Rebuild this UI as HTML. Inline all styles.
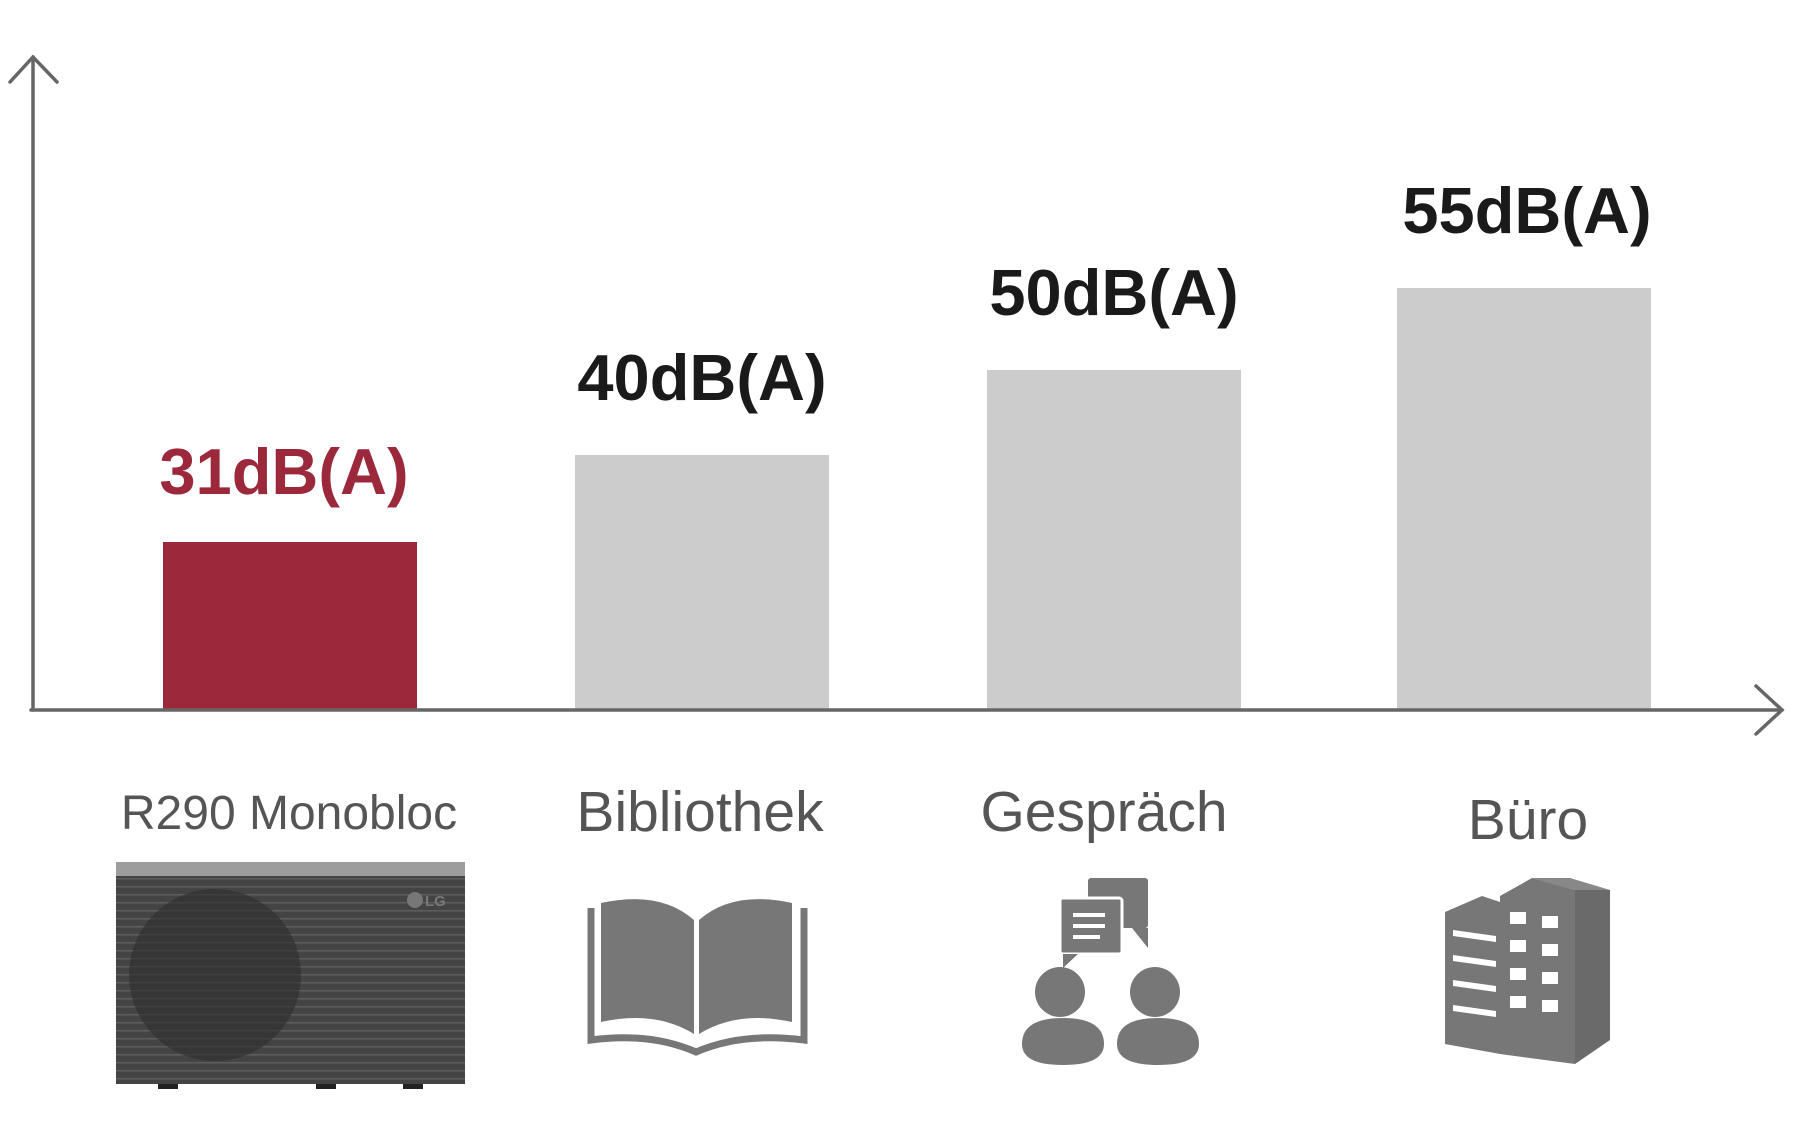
<!DOCTYPE html>
<html><head><meta charset="utf-8"><style>
html,body{margin:0;padding:0;background:#fff;}
svg{display:block;}
</style></head><body>
<svg width="1800" height="1140" viewBox="0 0 1800 1140" xmlns="http://www.w3.org/2000/svg">
<defs>
<pattern id="grille" width="10" height="8" patternUnits="userSpaceOnUse">
<rect width="10" height="8" fill="#444"/>
<rect y="6" width="10" height="1.5" fill="#5e5e5e"/>
</pattern>
</defs>
<rect x="163" y="542" width="254" height="167" fill="#9c283c"/>
<rect x="575" y="455" width="254" height="254" fill="#cccccc"/>
<rect x="987" y="370" width="254" height="339" fill="#cccccc"/>
<rect x="1397" y="288" width="254" height="421" fill="#cccccc"/>
<g stroke="#666" stroke-width="3.5" fill="none" stroke-linecap="round">
<line x1="33" y1="57" x2="33" y2="710"/>
<polyline points="10,82 33,57 57,82"/>
<line x1="31" y1="710" x2="1782" y2="710"/>
<polyline points="1756,686 1782,710 1756,734"/>
</g>
<g font-family="Liberation Sans, sans-serif" font-weight="bold" font-size="65" text-anchor="middle">
<text x="284" y="494" fill="#9c283c">31dB(A)</text>
<text x="702" y="400" fill="#1a1a1a">40dB(A)</text>
<text x="1114" y="315" fill="#1a1a1a">50dB(A)</text>
<text x="1527" y="233" fill="#1a1a1a">55dB(A)</text>
</g>
<g font-family="Liberation Sans, sans-serif" fill="#555" text-anchor="middle">
<text x="289" y="829" font-size="48">R290 Monobloc</text>
<text x="700" y="831" font-size="57">Bibliothek</text>
<text x="1104" y="831" font-size="57">Gespräch</text>
<text x="1528" y="839" font-size="57">Büro</text>
</g>
<rect x="116" y="862" width="349" height="222" fill="url(#grille)"/>
<rect x="116" y="862" width="349" height="14" fill="#9d9d9d"/>
<circle cx="215" cy="975" r="86" fill="#2f2f2f"/>
<circle cx="215" cy="975" r="86" fill="url(#grille)" opacity="0.35"/>
<circle cx="415" cy="900" r="8" fill="#777"/>
<text x="425" y="906" font-family="Liberation Sans, sans-serif" font-size="15" font-weight="bold" fill="#777">LG</text>
<rect x="158" y="1084" width="20" height="5" fill="#222"/>
<rect x="316" y="1084" width="20" height="5" fill="#222"/>
<rect x="403" y="1084" width="20" height="5" fill="#222"/>
<g fill="#777">
<path d="M601,903 Q660,890 694,920 V1034 Q655,1010 601,1022 Z"/>
<path d="M792,903 Q733,890 699,920 V1034 Q738,1010 792,1022 Z"/>
</g>
<path d="M591,908 V1040 Q650,1032 696,1052 Q742,1032 804,1040 V908" fill="none" stroke="#777" stroke-width="7"/>
<g fill="#777">
<rect x="1088" y="878" width="60" height="50" rx="3"/>
<path d="M1148,928 V948 L1132,928 Z"/>
<rect x="1060" y="898" width="62" height="56" rx="3" stroke="#fff" stroke-width="3"/>
<path d="M1063,954 V968 L1078,954 Z"/>
<circle cx="1060" cy="992" r="25"/>
<circle cx="1155" cy="992" r="25"/>
<path d="M1022,1044 Q1022,1018 1063,1018 Q1104,1018 1104,1044 Q1104,1065 1063,1065 Q1022,1065 1022,1044 Z"/>
<path d="M1117,1044 Q1117,1018 1158,1018 Q1199,1018 1199,1044 Q1199,1065 1158,1065 Q1117,1065 1117,1044 Z"/>
</g>
<g stroke="#fff" stroke-width="4">
<line x1="1073" y1="915" x2="1105" y2="915"/>
<line x1="1073" y1="926" x2="1105" y2="926"/>
<line x1="1073" y1="937" x2="1100" y2="937"/>
</g>
<g fill="#777">
<polygon points="1445,912 1482,896 1500,902 1500,1054 1445,1044"/>
<polygon points="1500,896 1532,878 1575,890 1575,1064 1500,1054"/>
<polygon points="1532,878 1610,890 1610,1040 1575,1064 1575,890" fill="#6a6a6a"/>
<polygon points="1532,878 1575,890 1610,890 1570,878" fill="#888"/>
</g>
<g fill="#fff">
<polygon points="1453,930 1496,936 1496,942 1453,936"/>
<polygon points="1453,955 1496,961 1496,967 1453,961"/>
<polygon points="1453,980 1496,986 1496,992 1453,986"/>
<polygon points="1453,1005 1496,1011 1496,1017 1453,1011"/>
<rect x="1510" y="912" width="16" height="12"/><rect x="1542" y="916" width="16" height="12"/>
<rect x="1510" y="940" width="16" height="12"/><rect x="1542" y="944" width="16" height="12"/>
<rect x="1510" y="968" width="16" height="12"/><rect x="1542" y="972" width="16" height="12"/>
<rect x="1510" y="996" width="16" height="12"/><rect x="1542" y="1000" width="16" height="12"/>
</g>
</svg>
</body></html>
